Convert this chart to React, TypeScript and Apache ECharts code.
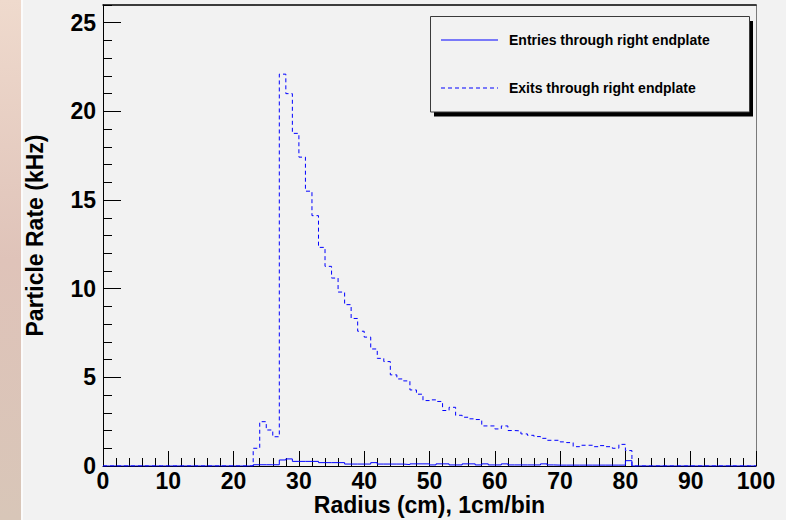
import React, { useEffect, useRef } from "react";
import * as echarts from "echarts";

// Bin lower edges are the array indices (1 cm per bin, 0..99 cm)
const exitsRate: number[] = [
  0, 0, 0, 0, 0, 0, 0, 0, 0, 0,
  0, 0, 0, 0, 0, 0, 0, 0, 0, 0,
  0, 0, 0, 1.0, 2.5, 2.03, 1.65, 22.1, 21.0, 18.76,
  17.42, 15.5, 14.12, 12.33, 11.26, 10.6, 9.81, 9.1, 8.32, 7.6,
  7.27, 6.6, 6.07, 5.89, 5.14, 4.91, 4.8, 4.29, 4.05, 3.69,
  3.73, 3.64, 3.13, 3.31, 2.86, 2.75, 2.66, 2.62, 2.26, 2.26,
  2.09, 2.26, 2.0, 1.98, 1.81, 1.73, 1.66, 1.56, 1.45, 1.45,
  1.36, 1.32, 1.09, 1.17, 1.17, 1.09, 1.15, 1.09, 1.0, 1.22,
  0.87, 0, 0, 0, 0, 0, 0, 0, 0, 0,
  0, 0, 0, 0, 0, 0, 0, 0, 0, 0,
];

const entriesRate: number[] = [
  0, 0, 0, 0, 0, 0, 0, 0, 0, 0,
  0, 0, 0, 0, 0, 0, 0, 0, 0, 0,
  0, 0, 0, 0.07, 0.07, 0.07, 0.07, 0.34, 0.4, 0.26,
  0.26, 0.26, 0.26, 0.19, 0.19, 0.19, 0.19, 0.11, 0.11, 0.11,
  0.11, 0.19, 0.11, 0.11, 0.11, 0.11, 0.08, 0.12, 0.12, 0.12,
  0.06, 0.12, 0.12, 0.06, 0.06, 0.12, 0.12, 0.06, 0.12, 0.06,
  0.06, 0.12, 0.06, 0.06, 0.06, 0.06, 0.06, 0.12, 0.06, 0.05,
  0.05, 0.05, 0.05, 0.05, 0.05, 0.05, 0.05, 0.05, 0.05, 0.05,
  0.3, 0, 0, 0, 0, 0, 0, 0, 0, 0,
  0, 0, 0, 0, 0, 0, 0, 0, 0, 0,
];

const seriesNames = ["Entries through right endplate", "Exits through right endplate"];
const xTitle = "Radius (cm), 1cm/bin";
const yTitle = "Particle Rate (kHz)";
const xRange = [0, 100];
const yRange = [0, 26];

const FONT = '"Liberation Sans", Arial, Helvetica, sans-serif';

function toSteps(values: number[]): [number, number][] {
  const pts: [number, number][] = values.map((v, i) => [i, v]);
  pts.push([values.length, values[values.length - 1]]);
  return pts;
}

export default function App() {
  const ref = useRef<HTMLDivElement>(null);

  useEffect(() => {
    document.body.style.margin = "0";
    if (!ref.current) return;
    const chart = echarts.init(ref.current, undefined, { renderer: "svg" });

    const labelStyle = { fontSize: 23, fontWeight: "bold", color: "#000", fontFamily: FONT, lineHeight: 18 };
    const titleStyle = { fontSize: 23, fontWeight: "bold", color: "#000", fontFamily: FONT, lineHeight: 20 };

    const option: any = {
      animation: false,
      backgroundColor: "#f2f2f2",
      textStyle: { fontFamily: FONT },
      grid: {
        left: 103,
        top: 5,
        right: 30,
        bottom: 54,
        containLabel: false,
        outerBoundsMode: "none",
      },
      xAxis: [
        {
          type: "value",
          position: "bottom",
          min: xRange[0],
          max: xRange[1],
          interval: 10,
          name: xTitle,
          nameLocation: "middle",
          nameGap: 29,
          nameMoveOverlap: false,
          nameTextStyle: titleStyle,
          axisLine: { show: true, onZero: false, lineStyle: { color: "#000", width: 1 } },
          axisTick: { show: true, inside: true, length: 15, lineStyle: { color: "#000", width: 1 } },
          minorTick: { show: true, splitNumber: 5, length: 8, lineStyle: { color: "#000", width: 1 } },
          axisLabel: { ...labelStyle, margin: 6 },
          splitLine: { show: false },
          minorSplitLine: { show: false },
        },
        {
          type: "value",
          position: "top",
          min: xRange[0],
          max: xRange[1],
          axisLine: { show: true, onZero: false, lineStyle: { color: "#000", width: 1.5 } },
          axisTick: { show: false },
          axisLabel: { show: false },
          splitLine: { show: false },
        },
      ],
      yAxis: [
        {
          type: "value",
          position: "left",
          min: yRange[0],
          max: yRange[1],
          interval: 5,
          name: yTitle,
          nameLocation: "middle",
          nameGap: 57,
          nameTextStyle: { ...titleStyle, lineHeight: 23 },
          axisLine: { show: true, onZero: false, lineStyle: { color: "#000", width: 1 } },
          axisTick: { show: true, inside: true, length: 18, lineStyle: { color: "#000", width: 1 } },
          axisLabel: { ...labelStyle, lineHeight: 23, margin: 7, showMaxLabel: false },
          splitLine: { show: false },
        },
        {
          type: "value",
          position: "left",
          min: yRange[0],
          max: yRange[1],
          interval: 1,
          axisLine: { show: false, onZero: false },
          axisTick: { show: true, inside: true, length: 9, lineStyle: { color: "#000", width: 1 } },
          axisLabel: { show: false },
          splitLine: { show: false },
        },
        {
          type: "value",
          position: "right",
          min: yRange[0],
          max: yRange[1],
          axisLine: { show: true, onZero: false, lineStyle: { color: "#7a7a7a", width: 1 } },
          axisTick: { show: false },
          axisLabel: { show: false },
          splitLine: { show: false },
        },
      ],
      series: [
        {
          name: seriesNames[0],
          type: "line",
          step: "end",
          symbol: "none",
          xAxisIndex: 0,
          yAxisIndex: 0,
          z: 3,
          lineStyle: { color: "#0000ff", width: 1 },
          data: toSteps(entriesRate),
        },
        {
          name: seriesNames[1],
          type: "line",
          step: "end",
          symbol: "none",
          xAxisIndex: 0,
          yAxisIndex: 0,
          z: 4,
          lineStyle: { color: "#0000ff", width: 1, type: [4, 3] },
          data: toSteps(exitsRate),
        },
      ],
      graphic: [
        {
          type: "rect",
          silent: true,
          shape: { x: 0, y: 0, width: 21, height: 520 },
          style: {
            fill: new echarts.graphic.LinearGradient(0, 0, 0, 1, [
              { offset: 0, color: "#efdacd" },
              { offset: 0.5, color: "#dfc3b9" },
              { offset: 1, color: "#d8c6b8" },
            ]),
          },
        },
        {
          type: "rect",
          silent: true,
          shape: { x: 21, y: 0, width: 2, height: 520 },
          style: { fill: "#fbfbfb" },
        },
        {
          type: "rect",
          silent: true,
          z: 10,
          shape: { x: 434, y: 21, width: 319, height: 95.5 },
          style: { fill: "#000" },
        },
        {
          type: "rect",
          silent: true,
          z: 11,
          shape: { x: 430.5, y: 16.5, width: 319, height: 95.5 },
          style: { fill: "#f2f2f2", stroke: "#3a3a3a", lineWidth: 1 },
        },
        {
          type: "line",
          silent: true,
          z: 12,
          shape: { x1: 441, y1: 40, x2: 498, y2: 40 },
          style: { stroke: "#0000ff", lineWidth: 1 },
        },
        {
          type: "line",
          silent: true,
          z: 12,
          shape: { x1: 441, y1: 88, x2: 498, y2: 88 },
          style: { stroke: "#0000ff", lineWidth: 1, lineDash: [4, 3] },
        },
        {
          type: "text",
          silent: true,
          z: 12,
          style: {
            text: seriesNames[0],
            x: 509,
            y: 40,
            fill: "#000",
            fontSize: 14,
            fontWeight: "bold",
            fontFamily: FONT,
            verticalAlign: "middle",
          },
        },
        {
          type: "text",
          silent: true,
          z: 12,
          style: {
            text: seriesNames[1],
            x: 509,
            y: 88,
            fill: "#000",
            fontSize: 14,
            fontWeight: "bold",
            fontFamily: FONT,
            verticalAlign: "middle",
          },
        },
      ],
    };

    chart.setOption(option);
    return () => chart.dispose();
  }, []);

  return (
    <div
      ref={ref}
      style={{ position: "absolute", left: 0, top: 0, width: 786, height: 520 }}
    />
  );
}
